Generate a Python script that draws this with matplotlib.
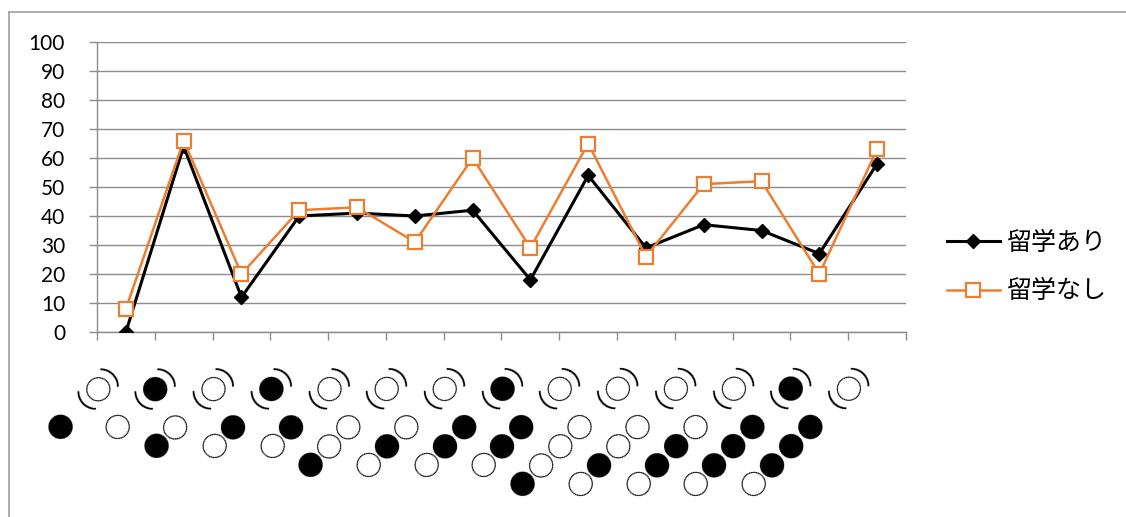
import numpy as np
import matplotlib.pyplot as plt
from matplotlib.lines import Line2D

# mora patterns for each item (read bottom-left to top-right)
patterns = ['●（○）', '○（●）', '●○（○）', '○●（●）', '○●（○）',
            '●○○（○）', '○●○（○）', '○●●（●）', '○●●（○）',
            '●○○○（○）', '○●○○（○）', '○●●○（○）', '○●●●（●）', '○●●●（○）']

abroad = [0, 64, 12, 40, 41, 40, 42, 18, 54, 29, 37, 35, 27, 58]
no_abroad = [8, 66, 20, 42, 43, 31, 60, 29, 65, 26, 51, 52, 20, 63]

series_names = ['留学あり', '留学なし']
y_ticks = list(range(0, 101, 10))

grid_col = '#8c8c8c'
orange = '#ED7D31'

fig = plt.figure(figsize=(11.26, 5.17), dpi=100)
ax = fig.add_axes([97 / 1126, 1 - 332 / 517, (906 - 97) / 1126, (332 - 42) / 517])

x = np.arange(len(patterns))
ax.plot(x, abroad, color='black', lw=2.2, marker='D', ms=6.8,
        mfc='black', mec='black', mew=1, label=series_names[0], zorder=3)
ax.plot(x, no_abroad, color=orange, lw=1.8, marker='s', ms=9.5,
        mfc='white', mec=orange, mew=1.6, label=series_names[1], zorder=4)

ax.set_xlim(-0.5, len(patterns) - 0.5)
ax.set_ylim(0, 100)
ax.set_yticks(y_ticks)
ax.set_yticklabels([str(v) for v in y_ticks], fontfamily='Lato', fontsize=15)
ax.yaxis.grid(True, color=grid_col, lw=1.0)
ax.set_axisbelow(True)

# category labels (hidden major ticks, nudged a little right of centre)
ax.set_xticks(x + 0.05)
ax.set_xticklabels(patterns, fontfamily='Noto Sans CJK JP', fontsize=19.5,
                   rotation=45, ha='right', va='center', rotation_mode='anchor')
ax.set_xticks(np.arange(-0.5, len(patterns), 1), minor=True)
ax.tick_params(axis='x', which='major', length=0, pad=20)
ax.tick_params(axis='x', which='minor', length=6, color=grid_col, width=1)
ax.tick_params(axis='y', length=6, color=grid_col, width=1, pad=17)

for side in ['top', 'right']:
    ax.spines[side].set_visible(False)
for side in ['left', 'bottom']:
    ax.spines[side].set_color(grid_col)
    ax.spines[side].set_linewidth(1)

leg = ax.legend(loc='center left', bbox_to_anchor=(947 / 1126, 1 - 267 / 517),
                bbox_transform=fig.transFigure, frameon=False, borderpad=0,
                borderaxespad=0, handlelength=2.1, handletextpad=0.3,
                labelspacing=0.9, prop={'family': 'Noto Sans CJK JP', 'size': 18})

# chart area border
bx = 9 / 1126
by = 1 - 12 / 517
fig.add_artist(Line2D([bx, 1], [by, by], transform=fig.transFigure, color='#a0a0a0', lw=1.2))
fig.add_artist(Line2D([bx, bx], [by, 0], transform=fig.transFigure, color='#a0a0a0', lw=1.2))

fig.savefig('out.png', dpi=100)
